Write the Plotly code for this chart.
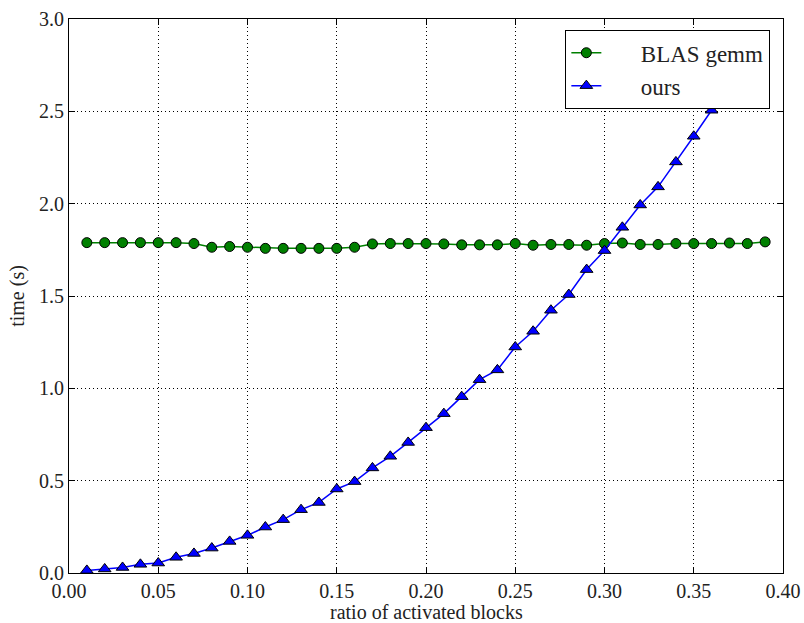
import plotly.graph_objects as go

ratio = [round(0.01 * i, 2) for i in range(1, 40)]
blas_gemm = [1.789, 1.789, 1.789, 1.789, 1.789, 1.789, 1.784, 1.764, 1.768, 1.764,
             1.758, 1.758, 1.758, 1.758, 1.758, 1.764, 1.782, 1.784, 1.784, 1.784,
             1.782, 1.777, 1.777, 1.777, 1.784, 1.775, 1.779, 1.779, 1.775, 1.784,
             1.787, 1.779, 1.779, 1.784, 1.784, 1.784, 1.787, 1.784, 1.793]
ours_ratio = ratio[:36]
ours = [0.014, 0.022, 0.030, 0.047, 0.054, 0.085, 0.106, 0.135, 0.171, 0.204,
        0.249, 0.289, 0.343, 0.382, 0.455, 0.495, 0.569, 0.632, 0.707, 0.787,
        0.863, 0.955, 1.047, 1.100, 1.224, 1.309, 1.423, 1.508, 1.643, 1.746,
        1.872, 1.993, 2.091, 2.226, 2.365, 2.506]

x_ticks = [0.0, 0.05, 0.10, 0.15, 0.20, 0.25, 0.30, 0.35, 0.40]
x_labels = ["0.00", "0.05", "0.10", "0.15", "0.20", "0.25", "0.30", "0.35", "0.40"]
y_ticks = [0.0, 0.5, 1.0, 1.5, 2.0, 2.5, 3.0]
y_labels = ["0.0", "0.5", "1.0", "1.5", "2.0", "2.5", "3.0"]
x_title = "ratio of activated blocks"
y_title = "time (s)"

FONT = "Liberation Serif"

fig = go.Figure()
fig.add_trace(go.Scatter(
    x=ratio, y=blas_gemm, mode="lines+markers", name="\u2003\u2002BLAS gemm",
    line=dict(color="#008000", width=1.5),
    marker=dict(symbol="circle", size=10, color="#008000",
                line=dict(color="black", width=1)),
))
fig.add_trace(go.Scatter(
    x=ours_ratio, y=ours, mode="lines+markers", name="\u2003\u2002ours",
    line=dict(color="#0000ff", width=1.5),
    marker=dict(symbol="triangle-up", size=11, color="#0000ff",
                line=dict(color="black", width=1)),
))

axis_common = dict(
    showline=True, linecolor="black", linewidth=1.2, mirror="allticks",
    ticks="inside", ticklen=6, tickcolor="black", tickwidth=1,
    showgrid=True, gridcolor="black", griddash="1px,3px", gridwidth=1,
    zeroline=False, tickfont=dict(family=FONT, size=20, color="#222"),
    automargin=False,
)

fig.update_layout(
    width=804, height=623,
    margin=dict(l=69, r=21, t=19, b=50),
    paper_bgcolor="white", plot_bgcolor="white",
    font=dict(family=FONT, color="#222"),
    showlegend=True,
    legend=dict(
        x=0.982, y=0.98, xanchor="right", yanchor="top",
        bgcolor="white", bordercolor="black", borderwidth=1.2,
        font=dict(family=FONT, size=23, color="#222"),
        tracegroupgap=6,
    ),
    xaxis=dict(range=[0, 0.40], tickvals=x_ticks, ticktext=x_labels, **axis_common),
    yaxis=dict(range=[0, 3.0], tickvals=y_ticks, ticktext=y_labels,
               title=dict(text=y_title, font=dict(family=FONT, size=20), standoff=8),
               **axis_common),
    annotations=[dict(
        text=x_title, xref="paper", yref="paper", x=0.5, y=0,
        xanchor="center", yanchor="top", yshift=-26, showarrow=False,
        font=dict(family=FONT, size=20, color="#222"),
    )],
)

fig.write_html("out.html")
